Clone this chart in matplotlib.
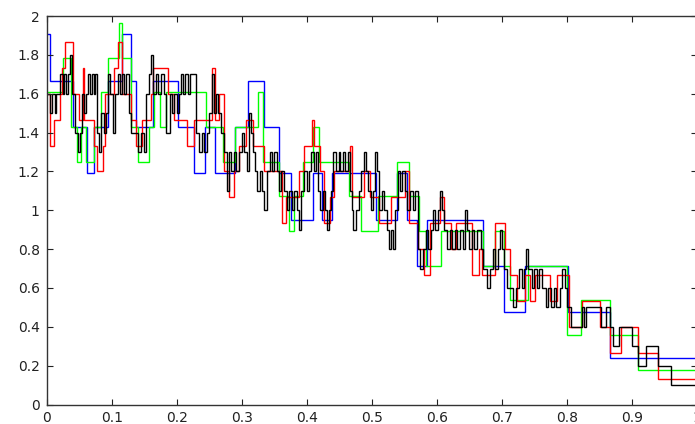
import matplotlib
matplotlib.use("Agg")
import matplotlib.pyplot as plt

# step series: x where each step starts, and its value; all end at x = 1
blue_x = [0.000, 0.005, 0.040, 0.062, 0.072, 0.095, 0.116, 0.129, 0.138, 0.163,
          0.202, 0.227, 0.244, 0.259, 0.290, 0.309, 0.335, 0.358, 0.376, 0.409,
          0.424, 0.439, 0.506, 0.539, 0.555, 0.570, 0.585, 0.671, 0.703, 0.736,
          0.802, 0.867]
blue_y = [1.905, 1.667, 1.429, 1.190, 1.429, 1.667, 1.905, 1.667, 1.429, 1.667,
          1.429, 1.190, 1.429, 1.190, 1.429, 1.667, 1.429, 1.190, 0.952, 1.190,
          0.952, 1.190, 0.952, 1.190, 0.952, 0.714, 0.952, 0.714, 0.476, 0.714,
          0.476, 0.238]

green_x = [0.000, 0.025, 0.038, 0.047, 0.053, 0.061, 0.072, 0.084, 0.095, 0.112,
           0.116, 0.130, 0.140, 0.158, 0.165, 0.174, 0.184, 0.245, 0.271, 0.289,
           0.325, 0.333, 0.358, 0.373, 0.381, 0.394, 0.409, 0.419, 0.465, 0.483,
           0.509, 0.539, 0.557, 0.573, 0.583, 0.606, 0.672, 0.690, 0.703, 0.713,
           0.740, 0.801, 0.822, 0.867, 0.910]
green_y = [1.607, 1.786, 1.429, 1.250, 1.429, 1.250, 1.429, 1.607, 1.786, 1.964,
           1.786, 1.429, 1.250, 1.429, 1.607, 1.429, 1.607, 1.429, 1.250, 1.429,
           1.607, 1.250, 1.071, 0.893, 1.071, 1.250, 1.429, 1.250, 1.071, 0.893,
           1.071, 1.250, 1.071, 0.893, 0.714, 0.893, 0.714, 0.893, 0.714, 0.536,
           0.714, 0.357, 0.536, 0.357, 0.179]

red_x = [0.000, 0.005, 0.011, 0.020, 0.024, 0.028, 0.040, 0.049, 0.056, 0.058,
         0.064, 0.072, 0.078, 0.086, 0.090, 0.104, 0.110, 0.116, 0.130, 0.137,
         0.146, 0.160, 0.164, 0.187, 0.196, 0.216, 0.227, 0.255, 0.259, 0.265,
         0.272, 0.280, 0.288, 0.296, 0.306, 0.318, 0.334, 0.362, 0.368, 0.388,
         0.396, 0.408, 0.412, 0.421, 0.426, 0.436, 0.442, 0.467, 0.470, 0.488,
         0.497, 0.512, 0.530, 0.552, 0.557, 0.572, 0.580, 0.589, 0.605, 0.612,
         0.622, 0.630, 0.654, 0.665, 0.670, 0.690, 0.705, 0.713, 0.723, 0.736,
         0.744, 0.752, 0.775, 0.785, 0.803, 0.823, 0.851, 0.867, 0.884, 0.910,
         0.940]
red_y = [1.600, 1.333, 1.467, 1.600, 1.733, 1.867, 1.600, 1.467, 1.733, 1.467,
         1.467, 1.333, 1.200, 1.333, 1.600, 1.733, 1.867, 1.600, 1.467, 1.333,
         1.467, 1.600, 1.733, 1.600, 1.467, 1.333, 1.467, 1.733, 1.467, 1.600,
         1.200, 1.067, 1.200, 1.333, 1.467, 1.333, 1.200, 0.933, 1.067, 1.200,
         1.333, 1.467, 1.333, 1.200, 0.933, 1.067, 1.200, 1.333, 1.067, 1.200,
         1.067, 0.933, 1.067, 1.200, 0.933, 0.800, 0.667, 0.933, 1.067, 0.933,
         0.800, 0.933, 0.667, 0.800, 0.667, 0.933, 0.800, 0.667, 0.533, 0.667,
         0.533, 0.667, 0.533, 0.667, 0.400, 0.533, 0.400, 0.267, 0.400, 0.267,
         0.133]

black_x = [0.000, 0.005, 0.008, 0.012, 0.015, 0.021, 0.025, 0.027, 0.030, 0.032,
           0.036, 0.039, 0.044, 0.048, 0.051, 0.054, 0.057, 0.060, 0.064, 0.067,
           0.069, 0.073, 0.075, 0.078, 0.081, 0.084, 0.088, 0.091, 0.094, 0.098,
           0.102, 0.105, 0.110, 0.113, 0.116, 0.119, 0.122, 0.126, 0.129, 0.136,
           0.140, 0.145, 0.150, 0.153, 0.158, 0.161, 0.164, 0.168, 0.172, 0.176,
           0.180, 0.184, 0.189, 0.193, 0.196, 0.200, 0.203, 0.207, 0.210, 0.213,
           0.217, 0.220, 0.230, 0.235, 0.239, 0.242, 0.246, 0.250, 0.254, 0.257,
           0.261, 0.264, 0.268, 0.272, 0.277, 0.280, 0.284, 0.288, 0.292, 0.296,
           0.300, 0.304, 0.308, 0.311, 0.315, 0.318, 0.321, 0.324, 0.328, 0.331,
           0.335, 0.339, 0.343, 0.347, 0.350, 0.354, 0.357, 0.361, 0.365, 0.369,
           0.373, 0.377, 0.381, 0.385, 0.388, 0.392, 0.396, 0.400, 0.403, 0.407,
           0.411, 0.414, 0.417, 0.421, 0.425, 0.428, 0.431, 0.434, 0.438, 0.441,
           0.445, 0.449, 0.452, 0.456, 0.459, 0.463, 0.466, 0.469, 0.472, 0.476,
           0.480, 0.484, 0.488, 0.491, 0.495, 0.499, 0.502, 0.505, 0.508, 0.512,
           0.516, 0.519, 0.523, 0.526, 0.529, 0.533, 0.536, 0.540, 0.544, 0.547,
           0.551, 0.555, 0.559, 0.563, 0.567, 0.571, 0.575, 0.579, 0.583, 0.587,
           0.591, 0.594, 0.598, 0.602, 0.605, 0.608, 0.612, 0.616, 0.620, 0.624,
           0.628, 0.632, 0.636, 0.640, 0.643, 0.646, 0.650, 0.654, 0.658, 0.662,
           0.668, 0.672, 0.677, 0.682, 0.686, 0.690, 0.694, 0.697, 0.700, 0.704,
           0.708, 0.718, 0.722, 0.727, 0.731, 0.735, 0.738, 0.741, 0.746, 0.750,
           0.754, 0.758, 0.762, 0.768, 0.772, 0.776, 0.780, 0.784, 0.789, 0.793,
           0.797, 0.801, 0.806, 0.812, 0.823, 0.826, 0.830, 0.853, 0.861, 0.867,
           0.871, 0.881, 0.901, 0.910, 0.922, 0.940, 0.961]
black_y = [1.6, 1.5, 1.6, 1.5, 1.6, 1.7, 1.6, 1.7, 1.6, 1.7,
           1.8, 1.6, 1.4, 1.3, 1.4, 1.6, 1.5, 1.6, 1.7, 1.6,
           1.7, 1.6, 1.7, 1.4, 1.3, 1.5, 1.4, 1.5, 1.7, 1.6,
           1.4, 1.6, 1.7, 1.6, 1.7, 1.6, 1.7, 1.5, 1.4, 1.4,
           1.3, 1.4, 1.3, 1.6, 1.7, 1.8, 1.6, 1.7, 1.6, 1.7,
           1.6, 1.4, 1.6, 1.5, 1.6, 1.5, 1.6, 1.7, 1.6, 1.7,
           1.6, 1.7, 1.4, 1.3, 1.4, 1.3, 1.4, 1.5, 1.7, 1.5,
           1.6, 1.5, 1.4, 1.3, 1.1, 1.3, 1.2, 1.3, 1.2, 1.3,
           1.4, 1.3, 1.2, 1.5, 1.4, 1.3, 1.2, 1.1, 1.2, 1.1,
           1.0, 1.2, 1.3, 1.2, 1.3, 1.2, 1.1, 1.2, 1.1, 1.0,
           1.1, 1.0, 1.1, 1.0, 0.9, 1.1, 1.2, 1.1, 1.2, 1.3,
           1.2, 1.3, 1.1, 1.0, 1.1, 1.0, 0.9, 1.0, 1.1, 1.3,
           1.2, 1.3, 1.2, 1.3, 1.2, 1.3, 1.1, 1.0, 0.9, 1.0,
           1.1, 1.2, 1.3, 1.2, 1.1, 1.0, 1.1, 1.3, 1.2, 1.0,
           1.1, 1.0, 0.9, 0.8, 0.9, 0.8, 1.0, 1.2, 1.1, 1.2,
           1.1, 1.0, 1.1, 1.0, 1.1, 0.8, 0.7, 0.8, 0.9, 0.8,
           0.9, 1.0, 0.9, 1.0, 1.1, 1.0, 0.9, 0.8, 0.9, 0.8,
           0.9, 0.8, 0.9, 0.8, 1.0, 0.9, 0.8, 0.9, 0.8, 0.9,
           0.8, 0.7, 0.6, 0.7, 0.8, 0.7, 0.8, 0.9, 0.8, 0.7,
           0.6, 0.5, 0.6, 0.7, 0.6, 0.7, 0.8, 0.7, 0.6, 0.7,
           0.6, 0.7, 0.6, 0.5, 0.6, 0.5, 0.6, 0.5, 0.6, 0.7,
           0.6, 0.5, 0.4, 0.4, 0.5, 0.4, 0.5, 0.4, 0.5, 0.4,
           0.3, 0.4, 0.3, 0.2, 0.3, 0.2, 0.1]

x_ticks = [0, 0.1, 0.2, 0.3, 0.4, 0.5, 0.6, 0.7, 0.8, 0.9, 1.0]
x_labels = ["0", "0.1", "0.2", "0.3", "0.4", "0.5", "0.6", "0.7", "0.8", "0.9", "1"]
y_ticks = [0, 0.2, 0.4, 0.6, 0.8, 1.0, 1.2, 1.4, 1.6, 1.8, 2.0]
y_labels = ["0", "0.2", "0.4", "0.6", "0.8", "1", "1.2", "1.4", "1.6", "1.8", "2"]

fig = plt.figure(figsize=(6.95, 4.24), dpi=100)
ax = fig.add_axes([46.7 / 695, 19.5 / 424, 650 / 695, 388.5 / 424])

series = [(blue_x, blue_y, "#0000ff"),
          (green_x, green_y, "#00ff00"),
          (red_x, red_y, "#ff0000"),
          (black_x, black_y, "#000000")]
for xs, ys, col in series:
    ax.stairs(ys, xs + [1.0], baseline=None, color=col, lw=1.0)

ax.set_xlim(0, 1)
ax.set_ylim(0, 2)
ax.set_xticks(x_ticks)
ax.set_xticklabels(x_labels)
ax.set_yticks(y_ticks)
ax.set_yticklabels(y_labels)
ax.tick_params(direction="in", length=4, width=0.8, top=True, right=True,
               labelsize=10, pad=5, colors="#222222")
for s in ax.spines.values():
    s.set_color("#333333")
    s.set_linewidth(1.0)

fig.savefig("out.png", dpi=100)
